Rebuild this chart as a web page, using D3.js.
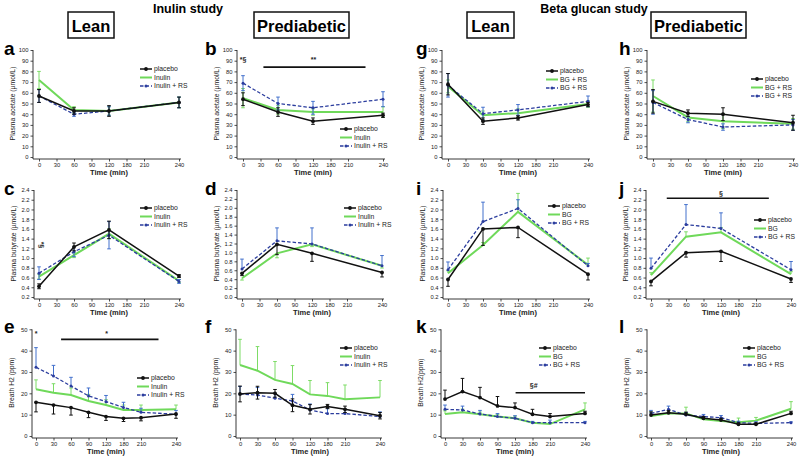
<!DOCTYPE html>
<html><head><meta charset="utf-8">
<script src="https://cdn.jsdelivr.net/npm/d3@7"></script>
<style>body{margin:0;background:#fff}svg{font-family:"Liberation Sans",Arial,Helvetica,sans-serif}</style>
</head><body><svg id="c" width="800" height="457"></svg>
<script>
// ---------- data ----------
const tFull = [0,30,60,90,120,180,210,240];
const tPlasma = [0,60,120,240];
const xTicks = [0,30,60,90,120,180,210,240];
const acetateTicks = [0,10,20,30,40,50,60,70,80,90,100];
const butTicks02 = [0.2,0.4,0.6,0.8,1.0,1.2,1.4,1.6,1.8,2.0,2.2,2.4];
const butTicks00 = [0.0,0.2,0.4,0.6,0.8,1.0,1.2,1.4,1.6,1.8,2.0,2.2,2.4];
const h2Ticks = [0,10,20,30,40,50];

// a: acetate, lean, inulin study
const aPlacebo = [57,43,43,51],      aPlaceboErr = [6,3,5,5];
const aInulin = [72,44,43,51],       aInulinErr = [8,3,4,5];
const aInulinRS = [57,40,43,51],     aInulinRSErr = [6,2,4,5];
// b: acetate, prediabetic, inulin study
const bPlacebo = [54,42,33.5,39],    bPlaceboErr = [6,4,3,2];
const bInulin = [55,44,42,42],       bInulinErr = [9,4,3,5];
const bInulinRS = [69,50,46,54],     bInulinRSErr = [7,6,6,7];
// g: acetate, lean, BG study
const gPlacebo = [68,33.5,36.5,49],  gPlaceboErr = [10,3,2,2];
const gBG = [66,39,41,49.5],         gBGErr = [6,4,4,3];
const gBGRS = [67,40.5,44,52],       gBGRSErr = [11,6,5,5];
// h: acetate, prediabetic, BG study
const hPlacebo = [52,41,40,32],      hPlaceboErr = [11,3,6,7];
const hBG = [57,37,33.5,31],         hBGErr = [15,4,7,5];
const hBGRS = [51,35,28,30],         hBGRSErr = [11,3,3,5];
// c: butyrate, lean, inulin
const cPlacebo = [0.42,1.23,1.58,0.63],  cPlaceboErr = [0.05,0.08,0.18,0.03];
const cInulin = [0.62,1.06,1.5,0.53],    cInulinErr = [0.05,0.05,0.1,0.03];
const cInulinRS = [0.69,1.13,1.47,0.52], cInulinRSErr = [0.13,0.1,0.28,0.04];
// d: butyrate, prediabetic, inulin
const dPlacebo = [0.53,1.18,0.98,0.55],  dPlaceboErr = [0.05,0.23,0.18,0.1];
const dInulin = [0.42,0.98,1.18,0.7],    dInulinErr = [0.04,0.1,0.05,0.05];
const dInulinRS = [0.63,1.26,1.19,0.7],  dInulinRSErr = [0.22,0.29,0.36,0.23];
// i: butyrate, lean, BG
const iPlacebo = [0.56,1.6,1.63,0.67],   iPlaceboErr = [0.14,0.34,0.21,0.12];
const iBG = [0.69,1.27,1.95,0.86],       iBGErr = [0.05,0.05,0.38,0.14];
const iBGRS = [0.76,1.75,2.02,0.84],     iBGRSErr = [0.16,0.4,0.18,0.05];
// j: butyrate, prediabetic, BG
const jPlacebo = [0.52,1.11,1.14,0.57],  jPlaceboErr = [0.09,0.09,0.21,0.07];
const jBG = [0.65,1.44,1.53,0.67],       jBGErr = [0.05,0.1,0.1,0.05];
const jBGRS = [0.79,1.69,1.61,0.76],     jBGRSErr = [0.21,0.41,0.32,0.17];
// e: breath H2, lean, inulin
const ePlacebo = [15.8,14.5,13.3,11.1,9.1,8.3,8.6,10.3],   ePlaceboErr = [4.5,4.2,3.5,2.5,1.8,1.5,1.5,2];
const eInulin = [21.9,20.3,19.2,16.4,14.5,12.2,12.2,12.5], eInulinErr = [4.4,4.2,3.3,3.1,2.5,2.3,2.3,2];
const eInulinRS = [32.2,28.1,23.4,18.8,16.1,13.4,11.1,10.2], eInulinRSErr = [9.2,5,4.1,3.7,2.9,2.4,1.9,1.8];
// f: breath H2, prediabetic, inulin
const fPlacebo = [19.7,20.3,20,14.4,12.5,13.8,12.5,9.5],   fPlaceboErr = [3.7,3,1.8,3,2.2,1,1.5,1.5];
const fInulin = [33.3,30.6,26.3,24.4,19.5,18.8,17.2,18.1], fInulinErr = [12,11.3,8.6,8.6,6.5,6.2,6.7,7.9];
const fInulinRS = [19.7,19.2,17.7,16.4,12.2,10.5,10.5,9.1], fInulinRSErr = [3.5,3.5,2.3,3.1,2.8,2.5,2,2.2];
// k: breath H2, lean, BG
const kPlacebo = [17.3,20.8,18,14.1,13.3,10.2,9.1,10.6], kPlaceboErr = [4.2,6.2,4.8,4.4,2.2,2.3,1.4,1];
const kBG = [10.3,11.1,10.2,9.1,8.3,6.25,5.6,12.5],      kBGErr = [1.5,1.5,1,1,1,0.5,0.7,3];
const kBGRS = [12.5,12.2,10.3,9.1,8.3,6.25,6.25,6.25],   kBGRSErr = [2,1.8,1.7,1.4,1.2,0.6,1.2,0.6];
// l: breath H2, prediabetic, BG
const lPlacebo = [9.8,10.9,10.2,8.3,7.5,5.5,5.5,10.6],   lPlaceboErr = [1.5,1,1,0.8,0.8,0.6,0.6,1];
const lBG = [9.4,10.6,10.6,7.8,7,6.4,7.2,12.8],          lBGErr = [1.8,1.5,2.9,1,1,2,1.5,3.3];
const lBGRS = [10.6,12.5,9.8,9.1,8.6,6.25,5.9,6.25],     lBGRSErr = [1.4,1.5,1.2,1,1,0.7,0.8,0.4];

// ---------- styles ----------
const C_BLACK = "#111111", C_GREEN = "#6fd95a", C_BLUE = "#2b3d9e", C_BLUE_ERR = "#4270cc", C_GREEN_ERR = "#7ddc66";

const svg = d3.select("#c");
const rowGeom = [{yb:157, yt:50}, {yb:297, yt:190}, {yb:436, yt:329.3}];
const colX0 = [[39,243,448,653],[39,242,448,651],[36,240,445,651]];
const axisGap = [6,5,4];

function S(kind, v, e, dir){ return {kind, v, e, dir}; }

const panels = [
 {L:"a", row:0, col:0, t:tPlasma, dom:[0,100], ticks:acetateTicks, fmt:d3.format("d"), yt:"Plasma acetate (µmol/L)",
  series:[S("g",aInulin,aInulinErr,"both"),S("b",aInulinRS,aInulinRSErr,"both"),S("k",aPlacebo,aPlaceboErr,"both")],
  leg:["placebo","Inulin","Inulin + RS"], legPos:[140,69]},
 {L:"b", row:0, col:1, t:tPlasma, dom:[0,100], ticks:acetateTicks, fmt:d3.format("d"), yt:"Plasma acetate (µmol/L)",
  series:[S("g",bInulin,bInulinErr,"both"),S("b",bInulinRS,bInulinRSErr,"both"),S("k",bPlacebo,bPlaceboErr,"both")],
  leg:["placebo","Inulin","Inulin + RS"], legPos:[340,129],
  notes:[{txt:"*§", t:0, v:89},{txt:"**", t:122, v:89}], bar:[35,225,84]},
 {L:"g", row:0, col:2, t:tPlasma, dom:[0,100], ticks:acetateTicks, fmt:d3.format("d"), yt:"Plasma acetate (µmol/L)",
  series:[S("g",gBG,gBGErr,"both"),S("b",gBGRS,gBGRSErr,"both"),S("k",gPlacebo,gPlaceboErr,"both")],
  leg:["placebo","BG + RS","BG + RS"], legPos:[546,71]},
 {L:"h", row:0, col:3, t:tPlasma, dom:[0,100], ticks:acetateTicks, fmt:d3.format("d"), yt:"Plasma acetate (µmol/L)",
  series:[S("g",hBG,hBGErr,"both"),S("b",hBGRS,hBGRSErr,"both"),S("k",hPlacebo,hPlaceboErr,"both")],
  leg:["placebo","BG + RS","BG + RS"], legPos:[751,79]},
 {L:"c", row:1, col:0, t:tPlasma, dom:[0.2,2.4], ticks:butTicks02, fmt:d3.format(".1f"), yt:"Plasma butyrate (µmol/L)",
  series:[S("g",cInulin,cInulinErr,"both"),S("b",cInulinRS,cInulinRSErr,"both"),S("k",cPlacebo,cPlaceboErr,"both")],
  leg:["placebo","Inulin","Inulin + RS"], legPos:[140,208], rotNote:{txt:"*§", t:0, v:1.27}},
 {L:"d", row:1, col:1, t:tPlasma, dom:[0,2.4], ticks:butTicks00, fmt:d3.format(".1f"), yt:"Plasma butyrate (µmol/L)",
  series:[S("g",dInulin,dInulinErr,"down"),S("b",dInulinRS,dInulinRSErr,"up"),S("k",dPlacebo,dPlaceboErr,"down")],
  leg:["placebo","Inulin","Inulin + RS"], legPos:[344,208]},
 {L:"i", row:1, col:2, t:tPlasma, dom:[0.2,2.4], ticks:butTicks02, fmt:d3.format(".1f"), yt:"Plasma butyrate (µmol/L)",
  series:[S("g",iBG,iBGErr,"up"),S("b",iBGRS,iBGRSErr,"up"),S("k",iPlacebo,iPlaceboErr,"down")],
  leg:["placebo","BG","BG + RS"], legPos:[548,206]},
 {L:"j", row:1, col:3, t:tPlasma, dom:[0.2,2.4], ticks:butTicks02, fmt:d3.format(".1f"), yt:"Plasma butyrate (µmol/L)",
  series:[S("g",jBG,jBGErr,"up"),S("b",jBGRS,jBGRSErr,"up"),S("k",jPlacebo,jPlaceboErr,"down")],
  leg:["placebo","BG","BG + RS"], legPos:[754,220], notes:[{txt:"§", t:120, v:2.28}], bar:[27,221,2.23]},
 {L:"e", row:2, col:0, t:tFull, dom:[0,50], ticks:h2Ticks, fmt:d3.format("d"), yt:"Breath H2 (ppm)",
  series:[S("g",eInulin,eInulinErr,"up"),S("b",eInulinRS,eInulinRSErr,"up"),S("k",ePlacebo,ePlaceboErr,"down")],
  leg:["placebo","Inulin","Inulin + RS"], legPos:[137,378], notes:[{txt:"*", t:0, v:47},{txt:"*", t:122, v:47}], bar:[43,225,45.3]},
 {L:"f", row:2, col:1, t:tFull, dom:[0,50], ticks:h2Ticks, fmt:d3.format("d"), yt:"Breath H2 (ppm)",
  series:[S("g",fInulin,fInulinErr,"up"),S("b",fInulinRS,fInulinRSErr,"up"),S("k",fPlacebo,fPlaceboErr,"both")],
  leg:["placebo","Inulin","Inulin + RS"], legPos:[340,348]},
 {L:"k", row:2, col:2, t:tFull, dom:[0,50], ticks:h2Ticks, fmt:d3.format("d"), yt:"Breath H2(ppm)",
  series:[S("g",kBG,kBGErr,"up"),S("b",kBGRS,kBGRSErr,"up"),S("k",kPlacebo,kPlaceboErr,"up")],
  leg:["placebo","BG","BG + RS"], legPos:[539,348], notes:[{txt:"§#", t:182, v:22.3}], bar:[122,240,20.3]},
 {L:"l", row:2, col:3, t:tFull, dom:[0,50], ticks:h2Ticks, fmt:d3.format("d"), yt:"Breath H2 (ppm)",
  series:[S("g",lBG,lBGErr,"up"),S("b",lBGRS,lBGRSErr,"up"),S("k",lPlacebo,lPlaceboErr,"up")],
  leg:["placebo","BG","BG + RS"], legPos:[743,348]}
];

const style = {
  k:{stroke:C_BLACK, w:1.5, dash:null, err:C_BLACK, mk:1.9},
  g:{stroke:C_GREEN, w:2, dash:null, err:C_GREEN_ERR, mk:0},
  b:{stroke:C_BLUE, w:1.3, dash:"3.5,2", err:C_BLUE_ERR, mk:1.5}
};

// ---------- headers ----------
const headers = [
  {txt:"Inulin study", x:188}, {txt:"Beta glucan study", x:594}
];
headers.forEach(h=>svg.append("text").attr("x",h.x).attr("y",13).attr("text-anchor","middle")
  .attr("font-size",12.5).attr("font-weight","bold").text(h.txt));
const boxes = [
  {txt:"Lean", x0:68, x1:114}, {txt:"Prediabetic", x0:254, x1:349},
  {txt:"Lean", x0:467, x1:514}, {txt:"Prediabetic", x0:651, x1:746}
];
boxes.forEach(b=>{
  svg.append("rect").attr("x",b.x0).attr("y",12).attr("width",b.x1-b.x0).attr("height",26)
    .attr("fill","none").attr("stroke","#111").attr("stroke-width",1.5);
  svg.append("text").attr("x",(b.x0+b.x1)/2).attr("y",31.5).attr("text-anchor","middle")
    .attr("font-size",16.5).attr("font-weight","bold").text(b.txt);
});

// ---------- panels ----------
panels.forEach(p=>{
  const rg = rowGeom[p.row];
  const x0 = colX0[p.row][p.col];
  const ax = x0 - axisGap[p.row];
  const x = d3.scaleLinear().domain([0,120,180,210,240]).range([x0,x0+70,x0+87.5,x0+105,x0+140]);
  const y = d3.scaleLinear().domain(p.dom).range([rg.yb, rg.yt]);
  const g = svg.append("g");

  // panel letter
  const lx = [4,205,416,619][p.col];
  const ly = [55,195,333][p.row];
  g.append("text").attr("x",lx).attr("y",ly).attr("font-size",19).attr("font-weight","bold").text(p.L);

  // y axis
  const yA = g.append("g").attr("transform",`translate(${ax},0)`)
    .call(d3.axisLeft(y).tickValues(p.ticks).tickFormat(p.fmt).tickSize(2.5).tickPadding(2).tickSizeOuter(0));
  yA.select(".domain").remove();
  yA.selectAll("text").attr("font-size",5.8).attr("fill","#222");
  yA.selectAll("line").attr("stroke","#222").attr("stroke-width",0.8);
  g.append("line").attr("x1",ax).attr("x2",ax).attr("y1",rg.yt).attr("y2",rg.yb+2).attr("stroke","#222").attr("stroke-width",0.9);

  // x axis
  const xA = g.append("g").attr("transform",`translate(0,${rg.yb+2})`)
    .call(d3.axisBottom(x).tickValues(xTicks).tickFormat(d3.format("d")).tickSize(2.5).tickPadding(1.5).tickSizeOuter(0));
  xA.select(".domain").remove();
  xA.selectAll("text").attr("font-size",5.8).attr("fill","#222");
  xA.selectAll("line").attr("stroke","#222").attr("stroke-width",0.8);
  g.append("line").attr("x1",ax).attr("x2",x(240)+2).attr("y1",rg.yb+2).attr("y2",rg.yb+2).attr("stroke","#222").attr("stroke-width",0.9);

  // titles
  g.append("text").attr("x",(x(0)+x(240))/2).attr("y",rg.yb+18).attr("text-anchor","middle")
    .attr("font-size",7.5).attr("font-weight","bold").attr("fill","#222").text("Time (min)");
  g.append("text").attr("transform",`translate(${ax-18},${(rg.yb+rg.yt)/2}) rotate(-90)`)
    .attr("text-anchor","middle").attr("font-size",6.8).attr("fill","#222").text(p.yt);

  // series
  p.series.forEach(s=>{
    const st = style[s.kind];
    const pts = p.t.map((t,i)=>({t, v:s.v[i], e:s.e[i]}));
    // error bars
    pts.forEach(d=>{
      const lo = (s.dir==="up") ? d.v : d.v - d.e;
      const hi = (s.dir==="down") ? d.v : d.v + d.e;
      const xc = x(d.t);
      g.append("line").attr("x1",xc).attr("x2",xc).attr("y1",y(lo)).attr("y2",y(hi))
        .attr("stroke",st.err).attr("stroke-width",1);
      if (s.dir!=="down") g.append("line").attr("x1",xc-1.8).attr("x2",xc+1.8).attr("y1",y(hi)).attr("y2",y(hi)).attr("stroke",st.err).attr("stroke-width",1);
      if (s.dir!=="up") g.append("line").attr("x1",xc-1.8).attr("x2",xc+1.8).attr("y1",y(lo)).attr("y2",y(lo)).attr("stroke",st.err).attr("stroke-width",1);
    });
    g.append("path").datum(pts)
      .attr("d", d3.line().x(d=>x(d.t)).y(d=>y(d.v)))
      .attr("fill","none").attr("stroke",st.stroke).attr("stroke-width",st.w)
      .attr("stroke-dasharray",st.dash);
    if (st.mk>0) g.selectAll(null).data(pts).enter().append("circle")
      .attr("cx",d=>x(d.t)).attr("cy",d=>y(d.v)).attr("r",st.mk).attr("fill",st.stroke);
  });

  // legend
  const legKinds = ["k","g","b"];
  p.leg.forEach((lab,i)=>{
    const st = style[legKinds[i]];
    const lx0 = p.legPos[0], ly0 = p.legPos[1] + i*8.5;
    g.append("line").attr("x1",lx0).attr("x2",lx0+12).attr("y1",ly0).attr("y2",ly0)
      .attr("stroke",st.stroke).attr("stroke-width",st.w).attr("stroke-dasharray",st.dash);
    if (st.mk>0) g.append("circle").attr("cx",lx0+6).attr("cy",ly0).attr("r",st.mk).attr("fill",st.stroke);
    g.append("text").attr("x",lx0+14).attr("y",ly0+2.3).attr("font-size",6.8).attr("fill","#222").text(lab);
  });

  // significance
  if (p.bar) g.append("line").attr("x1",x(p.bar[0])).attr("x2",x(p.bar[1])).attr("y1",y(p.bar[2])).attr("y2",y(p.bar[2]))
    .attr("stroke","#111").attr("stroke-width",1.6);
  (p.notes||[]).forEach(n=>g.append("text").attr("x",x(n.t)).attr("y",y(n.v)).attr("text-anchor","middle")
    .attr("font-size",7).attr("font-weight","bold").attr("fill","#222").text(n.txt));
  if (p.rotNote) g.append("text").attr("transform",`translate(${x(p.rotNote.t)},${y(p.rotNote.v)}) rotate(90)`)
    .attr("text-anchor","middle").attr("font-size",7).attr("font-weight","bold").attr("fill","#222").text(p.rotNote.txt);
});
</script></body></html>
